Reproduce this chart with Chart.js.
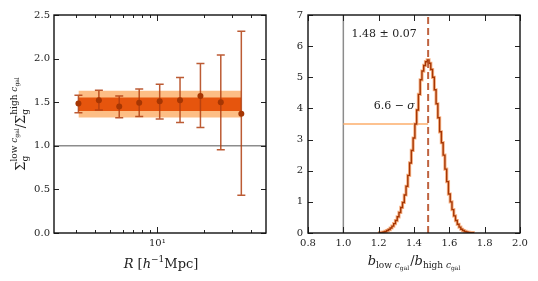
<!DOCTYPE html>
<html><head><meta charset="utf-8">
<script src="https://cdn.jsdelivr.net/npm/chart.js@4/dist/chart.umd.min.js"></script>
<style>body{margin:0;background:#fff;width:538px;height:281px;overflow:hidden}
canvas{position:absolute;top:0}</style>
</head><body>
<canvas id="c1" width="270" height="281" style="left:0"></canvas>
<canvas id="c2" width="268" height="281" style="left:270px"></canvas>
<script>
// ---------- data: left panel ----------
const R = [3.11, 4.21, 5.69, 7.65, 10.36, 14.0, 18.94, 25.6, 34.7];
const ratio = [1.484, 1.521, 1.452, 1.495, 1.510, 1.521, 1.571, 1.498, 1.368];
const errHi = [1.579, 1.636, 1.571, 1.651, 1.705, 1.782, 1.943, 2.041, 2.313];
const errLo = [1.380, 1.411, 1.323, 1.335, 1.307, 1.266, 1.209, 0.956, 0.432];
const band1sig = [1.400, 1.555];
const band2sig = [1.325, 1.632];
const unityLine = 1.0;
const leftYTicks = [0, 0.5, 1.0, 1.5, 2.0, 2.5];
const leftXMajor = [10];
const leftXMinor = [3, 4, 5, 6, 7, 8, 9, 20, 30, 40];
const leftXRange = [2.166, 50];

// ---------- data: right panel ----------
const histX = [1.20,1.21,1.22,1.23,1.24,1.25,1.26,1.27,1.28,1.29,1.30,1.31,1.32,1.33,1.34,1.35,1.36,1.37,1.38,1.39,
               1.40,1.41,1.42,1.43,1.44,1.45,1.46,1.47,1.48,1.49,1.50,1.51,1.52,1.53,1.54,1.55,1.56,1.57,1.58,1.59,
               1.60,1.61,1.62,1.63,1.64,1.65,1.66,1.67,1.68,1.69,1.70,1.71,1.72,1.73,1.74];
const histY = [0.00,0.01,0.02,0.03,0.05,0.08,0.11,0.16,0.22,0.30,0.40,0.52,0.66,0.82,0.98,1.22,1.50,1.85,2.25,2.65,
               3.05,3.50,3.95,4.45,4.92,5.20,5.38,5.50,5.56,5.45,5.25,5.00,4.60,4.15,3.70,3.25,2.90,2.50,2.05,1.65,
               1.25,1.00,0.75,0.55,0.40,0.28,0.19,0.12,0.08,0.05,0.03,0.02,0.01,0.01,0.00];
const bestFit = 1.48, bestErr = 0.07;
const sigmaLevel = 6.6, sigmaLineY = 3.5, nullValue = 1.0;
const rightXTicks = [0.8, 1.0, 1.2, 1.4, 1.6, 1.8, 2.0];
const rightYTicks = [0, 1, 2, 3, 4, 5, 6, 7];

// ---------- helpers ----------
const SERIF = '"DejaVu Serif"';
function fontOf(s){ return (s.it ? 'italic ' : '') + (s.sz || 13) + 'px ' + SERIF; }
function measureSegs(ctx, segs){
  let w = 0;
  for (const s of segs){
    if (s.stack){ let m = 0; for (const sub of s.stack) m = Math.max(m, measureSegs(ctx, sub)); w += m; }
    else { ctx.font = fontOf(s); w += ctx.measureText(s.t).width + (s.gap || 0); }
  }
  return w;
}
function drawSegs(ctx, segs, x, y){
  for (const s of segs){
    if (s.stack){ let m = 0; for (const sub of s.stack) m = Math.max(m, drawSegs(ctx, sub, x, y) - x); x += m; }
    else { ctx.font = fontOf(s); ctx.fillText(s.t, x, y + (s.dy || 0)); x += ctx.measureText(s.t).width + (s.gap || 0); }
  }
  return x;
}
function drawRich(ctx, segs, cx, cy, rot, align){
  ctx.save();
  ctx.translate(cx, cy); ctx.rotate(rot || 0);
  ctx.fillStyle = '#222'; ctx.textBaseline = 'alphabetic'; ctx.textAlign = 'left';
  const w = measureSegs(ctx, segs);
  const x0 = align === 'left' ? 0 : align === 'right' ? -w : -w / 2;
  drawSegs(ctx, segs, x0, 0);
  ctx.restore();
}

const frameTicks = {
  id: 'frameTicks',
  afterDatasetsDraw(chart, args, opts){
    const ctx = chart.ctx, a = chart.chartArea, xs = chart.scales.x, ys = chart.scales.y;
    ctx.save();
    ctx.strokeStyle = '#222'; ctx.lineWidth = 1;
    for (const t of opts.x){
      const p = Math.round(xs.getPixelForValue(t.v)) + 0.5;
      ctx.beginPath(); ctx.moveTo(p, a.bottom); ctx.lineTo(p, a.bottom - t.len);
      ctx.moveTo(p, a.top); ctx.lineTo(p, a.top + t.len); ctx.stroke();
    }
    for (const t of opts.y){
      const p = Math.round(ys.getPixelForValue(t.v)) + 0.5;
      ctx.beginPath(); ctx.moveTo(a.left, p); ctx.lineTo(a.left + t.len, p);
      ctx.moveTo(a.right, p); ctx.lineTo(a.right - t.len, p); ctx.stroke();
    }
    ctx.lineWidth = 1.4; ctx.strokeStyle = '#111';
    ctx.strokeRect(a.left, a.top, a.right - a.left, a.bottom - a.top);
    ctx.restore();
    if (opts.text) opts.text(chart);
  }
};

const commonTickFont = { family: SERIF, size: 10 };

// ---------- left chart ----------
const errorBars = {
  id: 'errorBars',
  beforeDatasetsDraw(chart){
    const ctx = chart.ctx, a = chart.chartArea, xs = chart.scales.x, ys = chart.scales.y;
    ctx.save();
    ctx.strokeStyle = '#8c8c8c'; ctx.lineWidth = 1.5;
    const py = ys.getPixelForValue(unityLine);
    ctx.beginPath(); ctx.moveTo(a.left, py); ctx.lineTo(a.right, py); ctx.stroke();
    ctx.restore();
  },
  beforeDatasetDraw(chart, args){
    if (args.index !== 4) return;
    const ctx = chart.ctx, xs = chart.scales.x, ys = chart.scales.y;
    ctx.save();
    ctx.strokeStyle = 'rgba(176,62,16,0.85)'; ctx.lineWidth = 1.5;
    R.forEach((r, i) => {
      const px = xs.getPixelForValue(r), y1 = ys.getPixelForValue(errLo[i]), y2 = ys.getPixelForValue(errHi[i]);
      ctx.beginPath();
      ctx.moveTo(px, y1); ctx.lineTo(px, y2);
      ctx.moveTo(px - 4, y1); ctx.lineTo(px + 4, y1);
      ctx.moveTo(px - 4, y2); ctx.lineTo(px + 4, y2);
      ctx.stroke();
    });
    ctx.restore();
  }
};

const bandPts = v => [{x: R[0], y: v}, {x: R[R.length - 1], y: v}];
new Chart(document.getElementById('c1'), {
  type: 'scatter',
  data: { datasets: [
    { type: 'line', data: bandPts(band2sig[1]), fill: '+1', backgroundColor: '#fdbe85', borderWidth: 0, pointRadius: 0, order: 4 },
    { type: 'line', data: bandPts(band2sig[0]), fill: false, borderWidth: 0, pointRadius: 0, order: 5 },
    { type: 'line', data: bandPts(band1sig[1]), fill: '+1', backgroundColor: '#e6550d', borderWidth: 0, pointRadius: 0, order: 2 },
    { type: 'line', data: bandPts(band1sig[0]), fill: false, borderWidth: 0, pointRadius: 0, order: 3 },
    { type: 'scatter', data: R.map((x, i) => ({x, y: ratio[i]})), backgroundColor: '#a63603', borderWidth: 0, pointRadius: 3, order: 0 }
  ]},
  options: {
    responsive: false, animation: false,
    layout: { padding: { top: 15, right: 4, left: 0, bottom: 0 } },
    plugins: { legend: { display: false }, tooltip: { enabled: false },
      frameTicks: {
        x: leftXMajor.map(v => ({v, len: 6})).concat(leftXMinor.map(v => ({v, len: 3}))),
        y: leftYTicks.map(v => ({v, len: 5})),
        text(chart){
          const ctx = chart.ctx;
          drawRich(ctx, [
            {t: 'R', it: true, sz: 13}, {t: ' [', sz: 13}, {t: 'h', it: true, sz: 13},
            {t: '−1', sz: 9, dy: -6}, {t: 'Mpc]', sz: 13}
          ], 161, 268, 0);
          drawRich(ctx, [
            {t: 'Σ', sz: 13},
            {stack: [[{t: 'g', sz: 9, dy: 3}], [{t: 'low ', sz: 9, dy: -8}, {t: 'c', it: true, sz: 9, dy: -8}, {t: 'gal', sz: 6, dy: -6.5}]]},
            {t: '/', sz: 13},
            {t: 'Σ', sz: 13},
            {stack: [[{t: 'g', sz: 9, dy: 3}], [{t: 'high ', sz: 9, dy: -8}, {t: 'c', it: true, sz: 9, dy: -8}, {t: 'gal', sz: 6, dy: -6.5}]]}
          ], 25, 124, -Math.PI / 2);
        }
      }
    },
    scales: {
      x: { type: 'logarithmic', min: leftXRange[0], max: leftXRange[1],
        grid: { display: false, drawTicks: false }, border: { display: false },
        afterBuildTicks(s){ s.ticks = leftXMinor.concat(leftXMajor).sort((a, b) => a - b).map(v => ({value: v})); },
        afterFit(s){ s.height = 48; },
        ticks: { autoSkip: false, maxRotation: 0, padding: 4, color: '#222', font: commonTickFont,
          callback: v => leftXMajor.includes(v) ? '10¹' : '' } },
      y: { min: 0, max: 2.5,
        grid: { display: false, drawTicks: false }, border: { display: false },
        afterBuildTicks(s){ s.ticks = leftYTicks.map(v => ({value: v})); },
        afterFit(s){ s.width = 54; },
        ticks: { padding: 4, color: '#222', font: commonTickFont, callback: v => Number(v).toFixed(1) } }
    }
  },
  plugins: [errorBars, frameTicks]
});

// ---------- right chart ----------
new Chart(document.getElementById('c2'), {
  type: 'line',
  data: { datasets: [
    { data: [{x: bestFit, y: 0}, {x: bestFit, y: 7}], borderColor: 'rgba(180,72,30,0.85)', borderWidth: 2, borderDash: [7, 4], pointRadius: 0, order: 0 },
    { data: histX.map((x, i) => ({x, y: histY[i]})), stepped: 'middle', borderColor: '#a63603', borderWidth: 1.4, pointRadius: 0, order: 1 },
    { data: histX.map((x, i) => ({x, y: histY[i]})), stepped: 'middle', borderColor: '#f8b488', borderWidth: 3.2, pointRadius: 0, order: 2 },
    { data: [{x: nullValue, y: sigmaLineY}, {x: bestFit, y: sigmaLineY}], borderColor: '#fdae6b', borderWidth: 1.5, pointRadius: 0, order: 3 },
    { data: [{x: nullValue, y: 0}, {x: nullValue, y: 7}], borderColor: '#8c8c8c', borderWidth: 1.5, pointRadius: 0, order: 4 }
  ]},
  options: {
    responsive: false, animation: false,
    layout: { padding: { top: 15, right: 18, left: 0, bottom: 0 } },
    plugins: { legend: { display: false }, tooltip: { enabled: false },
      frameTicks: {
        x: rightXTicks.map(v => ({v, len: 6})),
        y: rightYTicks.map(v => ({v, len: 5})),
        text(chart){
          const ctx = chart.ctx, xs = chart.scales.x, ys = chart.scales.y;
          drawRich(ctx, [{t: bestFit.toFixed(2) + ' ± ' + bestErr.toFixed(2), sz: 11}],
            xs.getPixelForValue(1.046), ys.getPixelForValue(6.28), 0, 'left');
          drawRich(ctx, [{t: sigmaLevel.toFixed(1) + ' − ', sz: 11}, {t: 'σ', it: true, sz: 11}],
            xs.getPixelForValue(1.405), ys.getPixelForValue(3.97), 0, 'right');
          drawRich(ctx, [
            {t: 'b', it: true, sz: 13}, {t: 'low ', sz: 9, dy: 3}, {t: 'c', it: true, sz: 9, dy: 3}, {t: 'gal', sz: 6, dy: 4.5, gap: 1},
            {t: '/', sz: 13},
            {t: 'b', it: true, sz: 13}, {t: 'high ', sz: 9, dy: 3}, {t: 'c', it: true, sz: 9, dy: 3}, {t: 'gal', sz: 6, dy: 4.5}
          ], 144, 265, 0);
        }
      }
    },
    scales: {
      x: { type: 'linear', min: 0.8, max: 2.0,
        grid: { display: false, drawTicks: false }, border: { display: false },
        afterBuildTicks(s){ s.ticks = rightXTicks.map(v => ({value: v})); },
        afterFit(s){ s.height = 48; },
        ticks: { autoSkip: false, maxRotation: 0, padding: 4, color: '#222', font: commonTickFont, callback: v => Number(v).toFixed(1) } },
      y: { min: 0, max: 7,
        grid: { display: false, drawTicks: false }, border: { display: false },
        afterBuildTicks(s){ s.ticks = rightYTicks.map(v => ({value: v})); },
        afterFit(s){ s.width = 38; },
        ticks: { padding: 5, color: '#222', font: commonTickFont, callback: v => String(v) } }
    }
  },
  plugins: [frameTicks]
});
</script>
</body></html>
